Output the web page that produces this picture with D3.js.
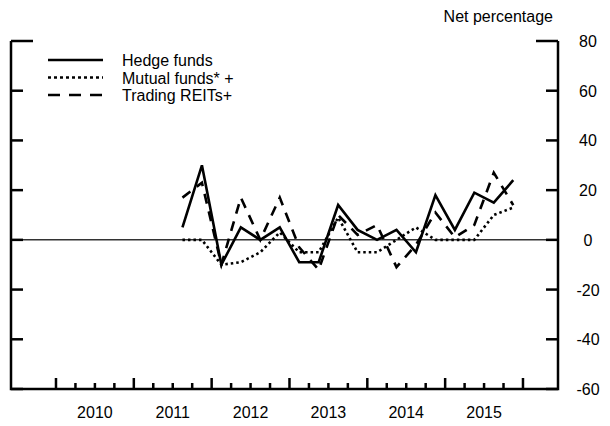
<!DOCTYPE html>
<html>
<head>
<meta charset="utf-8">
<script src="https://cdn.jsdelivr.net/npm/d3@7"></script>
<style>
  body { margin: 0; background: #fff; }
  text { font-family: "Liberation Sans", Arial, sans-serif; fill: #000; }
</style>
</head>
<body>
<svg id="chart" width="610" height="426"></svg>
<script>
// quarterly survey points, 2011 Q3 .. 2015 Q4
var quarters = ["2011Q3","2011Q4","2012Q1","2012Q2","2012Q3","2012Q4","2013Q1","2013Q2",
                "2013Q3","2013Q4","2014Q1","2014Q2","2014Q3","2014Q4","2015Q1","2015Q2",
                "2015Q3","2015Q4"];
var hedgeFunds  = [5, 30, -10, 5, 0, 5, -9, -9, 14, 4, 0, 4, -5, 18, 4, 19, 15, 24];
var mutualFunds = [0, 0, -10, -9, -5, 3, -5, -5, 9, -5, -5, 0, 5, 0, 0, 0, 10, 13];
var tradingReits = [17, 23, -10, 17, 0, 17, -3, -12, 10, 2, 6, -11, -2, 11, 1, 6, 27, 14];

var years = [2010, 2011, 2012, 2013, 2014, 2015];
var yTicks = [80, 60, 40, 20, 0, -20, -40, -60];

var seriesNames = ["Hedge funds", "Mutual funds* +", "Trading REITs+"];
var dashes = [null, "2.5,3", "10,8"];
var legendDashes = [null, "3,3", "12,9"];

var svg = d3.select("#chart");

// quarter label -> fractional year at the middle of the quarter
function qToYear(q) {
    return +q.slice(0, 4) + (+q.slice(5) - 1) / 4 + 0.125;
}

var x = d3.scaleLinear().domain([2009.422, 2016.45]).range([11, 558]);
var y = d3.scaleLinear().domain([-60, 80]).range([389, 41]);

// zero line
svg.append("line")
    .attr("x1", x.range()[0]).attr("x2", x.range()[1])
    .attr("y1", y(0)).attr("y2", y(0))
    .attr("stroke", "#333").attr("stroke-width", 1.5);

// frame: left, right, bottom
var axisG = svg.append("g").attr("stroke", "#000").attr("stroke-width", 2.5).attr("fill", "none");
axisG.append("path")
    .attr("d", "M" + x.range()[0] + "," + y(80) + "V" + y(-60) + "H" + x.range()[1] + "V" + y(80));

// y ticks on both sides, pointing inward
yTicks.forEach(function (t) {
    var len = t === 80 ? 22 : 12;
    axisG.append("line")
        .attr("x1", x.range()[0]).attr("x2", x.range()[0] + len)
        .attr("y1", y(t)).attr("y2", y(t));
    axisG.append("line")
        .attr("x1", x.range()[1]).attr("x2", x.range()[1] - len)
        .attr("y1", y(t)).attr("y2", y(t));
});

// x ticks: year majors, quarter minors
var xMinor = d3.range(2010, 2016, 0.25);
xMinor.forEach(function (t) {
    var major = Math.abs(t - Math.round(t)) < 1e-6;
    axisG.append("line")
        .attr("x1", x(t)).attr("x2", x(t))
        .attr("y1", y(-60)).attr("y2", y(-60) - (major ? 11 : 6));
});
axisG.append("line")
    .attr("x1", x(2016)).attr("x2", x(2016))
    .attr("y1", y(-60)).attr("y2", y(-60) - 11);

// y labels on the right
svg.selectAll(".ylab").data(yTicks).enter().append("text")
    .attr("class", "ylab")
    .attr("x", 588).attr("y", d => y(d) + 6)
    .attr("text-anchor", "middle")
    .style("font-size", "16px")
    .text(d => d);

// year labels
svg.selectAll(".xlab").data(years).enter().append("text")
    .attr("class", "xlab")
    .attr("x", d => x(d + 0.5)).attr("y", 418)
    .attr("text-anchor", "middle")
    .style("font-size", "16px")
    .text(d => d);

svg.append("text")
    .attr("x", 553).attr("y", 22)
    .attr("text-anchor", "end")
    .style("font-size", "16px")
    .text("Net percentage");

// series lines
var line = d3.line()
    .x((d, i) => x(qToYear(quarters[i])))
    .y(d => y(d));

[hedgeFunds, mutualFunds, tradingReits].forEach(function (vals, k) {
    svg.append("path")
        .datum(vals)
        .attr("d", line)
        .attr("fill", "none")
        .attr("stroke", "#000")
        .attr("stroke-width", 2.6)
        .attr("stroke-dasharray", dashes[k]);
});

// legend
var leg = svg.append("g");
seriesNames.forEach(function (name, k) {
    var ly = 60 + k * 17.5;
    leg.append("line")
        .attr("x1", 48).attr("x2", 103)
        .attr("y1", ly).attr("y2", ly)
        .attr("stroke", "#000").attr("stroke-width", 2.6)
        .attr("stroke-dasharray", legendDashes[k]);
    leg.append("text")
        .attr("x", 122).attr("y", ly + 6)
        .style("font-size", "16px")
        .text(name);
});
</script>
</body>
</html>
